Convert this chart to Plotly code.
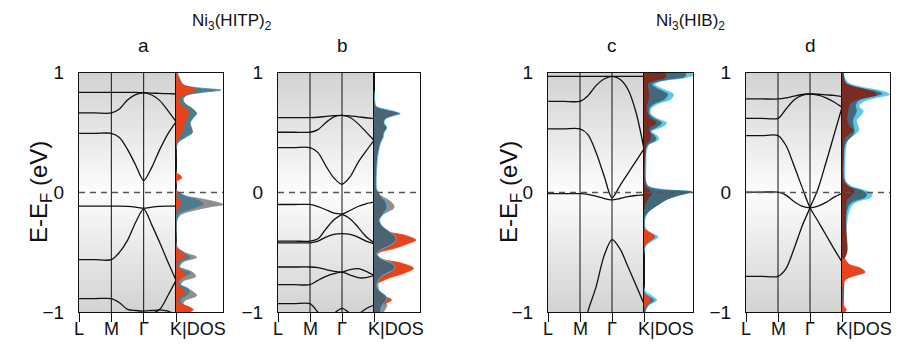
import numpy as np
import plotly.graph_objects as go

# ---------------- data ----------------
K_PATH = [0, 0.5, 1, 1.25, 1.5, 1.75, 2, 2.25, 2.5, 2.75, 3]
K_LABELS = ["L", "M", "Γ", "K"]
PANEL_LETTERS = ["a", "b", "c", "d"]
TITLES = ["Ni<sub>3</sub>(HITP)<sub>2</sub>", "Ni<sub>3</sub>(HIB)<sub>2</sub>"]

BANDS_A = [
    [0.836, 0.836, 0.836, 0.836, 0.836, 0.835, 0.833, 0.83, 0.827, 0.825, 0.822],
    [0.664, 0.664, 0.664, 0.697, 0.772, 0.817, 0.831, 0.814, 0.767, 0.683, 0.592],
    [0.494, 0.494, 0.494, 0.46, 0.36, 0.23, 0.10, 0.21, 0.36, 0.49, 0.59],
    [-0.114, -0.114, -0.114, -0.114, -0.116, -0.122, -0.131, -0.122, -0.116, -0.114, -0.114],
    [-0.561, -0.561, -0.561, -0.50, -0.40, -0.25, -0.136, -0.27, -0.42, -0.58, -0.733],
    [-0.886, -0.886, -0.886, -0.92, -0.975, -0.985, -0.99, -0.985, -0.98, -0.99, -1.02],
    [-1.1, -1.1, -1.1, -1.1, -1.1, -1.05, -1.02, -1.01, -0.975, -0.86, -0.733],
]
BANDS_B = [
    [0.625, 0.625, 0.625, 0.628, 0.635, 0.641, 0.644, 0.64, 0.632, 0.624, 0.617],
    [0.503, 0.503, 0.503, 0.525, 0.585, 0.632, 0.644, 0.626, 0.575, 0.506, 0.436],
    [0.375, 0.375, 0.375, 0.333, 0.22, 0.12, 0.069, 0.13, 0.25, 0.345, 0.436],
    [-0.100, -0.100, -0.100, -0.117, -0.144, -0.172, -0.183, -0.219, -0.289, -0.367, -0.419],
    [-0.406, -0.406, -0.406, -0.386, -0.303, -0.228, -0.183, -0.150, -0.117, -0.094, -0.081],
    [-0.42, -0.42, -0.42, -0.406, -0.372, -0.35, -0.344, -0.35, -0.372, -0.406, -0.428],
    [-0.622, -0.622, -0.622, -0.628, -0.643, -0.658, -0.664, -0.644, -0.636, -0.658, -0.692],
    [-0.769, -0.769, -0.769, -0.733, -0.700, -0.678, -0.664, -0.689, -0.711, -0.711, -0.692],
    [-0.928, -0.928, -0.928, -1.0, -1.06, -1.08, -1.08, -1.06, -1.02, -0.97, -0.94],
    [-1.1, -1.1, -1.1, -1.1, -1.08, -1.01, -0.967, -1.01, -1.08, -1.1, -1.1],
]
BANDS_C = [
    [0.969, 0.969, 0.969, 0.969, 0.969, 0.969, 0.969, 0.969, 0.969, 0.969, 0.969],
    [0.761, 0.761, 0.761, 0.808, 0.892, 0.947, 0.969, 0.945, 0.86, 0.67, 0.364],
    [0.531, 0.531, 0.531, 0.483, 0.336, 0.142, -0.045, 0.058, 0.16, 0.262, 0.364],
    [-0.01, -0.01, -0.01, -0.015, -0.03, -0.05, -0.062, -0.05, -0.035, -0.025, -0.02],
    [-1.3, -1.3, -1.3, -0.99, -0.79, -0.53, -0.394, -0.47, -0.62, -0.775, -0.93],
]
BANDS_D = [
    [0.781, 0.781, 0.781, 0.79, 0.805, 0.818, 0.822, 0.82, 0.815, 0.81, 0.80],
    [0.619, 0.619, 0.619, 0.697, 0.772, 0.811, 0.822, 0.812, 0.79, 0.755, 0.711],
    [0.475, 0.475, 0.475, 0.392, 0.225, 0.045, -0.128, -0.24, -0.355, -0.47, -0.58],
    [0.003, 0.003, 0.003, -0.022, -0.075, -0.114, -0.128, -0.114, -0.083, -0.039, -0.006],
    [-0.70, -0.70, -0.70, -0.636, -0.47, -0.283, -0.128, 0.03, 0.25, 0.48, 0.711],
]

# DOS (energy, fraction of DOS box width)
A_GRAY_E = [0.02, 0.0, -0.03, -0.05, -0.08, -0.1, -0.12, -0.15, -0.18, -0.22, -0.3, -0.45, -0.5, -0.54, -0.58, -0.62, -0.66, -0.7, -0.74, -0.78, -0.82, -0.86, -0.9, -0.93, -0.97, -1.0]
A_GRAY_V = [0.0, 0.02, 0.2, 0.5, 0.86, 1.0, 0.72, 0.37, 0.12, 0.03, 0.01, 0.02, 0.18, 0.44, 0.15, 0.08, 0.33, 0.42, 0.15, 0.1, 0.33, 0.44, 0.2, 0.15, 0.3, 0.22]
A_TEAL_E = [1.0, 0.95, 0.9, 0.875, 0.855, 0.835, 0.81, 0.78, 0.74, 0.7, 0.66, 0.62, 0.58, 0.54, 0.5, 0.46, 0.42, 0.38, 0.16, 0.13, 0.1, 0.02, -0.03, -0.07, -0.095, -0.12, -0.15, -0.18, -0.25, -0.46, -0.5, -0.54, -0.58, -0.63, -0.67, -0.71, -0.76, -0.81, -0.85, -0.89, -0.93, -0.97, -1.0]
A_TEAL_V = [0.02, 0.08, 0.15, 0.45, 0.95, 0.55, 0.22, 0.15, 0.2, 0.35, 0.44, 0.36, 0.3, 0.33, 0.35, 0.2, 0.05, 0.01, 0.01, 0.07, 0.01, 0.01, 0.2, 0.51, 0.58, 0.44, 0.2, 0.05, 0.01, 0.02, 0.15, 0.3, 0.1, 0.06, 0.3, 0.12, 0.06, 0.28, 0.25, 0.1, 0.12, 0.28, 0.2]
A_RED_E = [1.0, 0.95, 0.9, 0.86, 0.83, 0.8, 0.76, 0.72, 0.68, 0.64, 0.6, 0.56, 0.52, 0.48, 0.44, 0.4, 0.17, 0.14, 0.12, 0.09, 0.0, -0.06, -0.09, -0.12, -0.16, -0.45, -0.5, -0.53, -0.57, -0.62, -0.66, -0.69, -0.73, -0.77, -0.81, -0.84, -0.88, -0.92, -0.95, -0.98, -1.0]
A_RED_V = [0.02, 0.06, 0.15, 0.43, 0.3, 0.1, 0.06, 0.15, 0.26, 0.25, 0.2, 0.17, 0.15, 0.1, 0.03, 0.0, 0.0, 0.1, 0.12, 0.01, 0.0, 0.05, 0.13, 0.06, 0.0, 0.0, 0.12, 0.2, 0.05, 0.02, 0.15, 0.2, 0.05, 0.03, 0.15, 0.18, 0.05, 0.05, 0.25, 0.37, 0.25]

B_GRAY_E = [0.02, -0.02, -0.06, -0.1, -0.13, -0.16, -0.2, -0.25, -0.5, -0.85, -0.9, -0.94, -0.97, -1.0]
B_GRAY_V = [0.02, 0.12, 0.3, 0.42, 0.43, 0.3, 0.12, 0.05, 0.05, 0.12, 0.2, 0.28, 0.25, 0.2]
B_RED_E = [-0.28, -0.3, -0.33, -0.36, -0.397, -0.43, -0.465, -0.5, -0.53, -0.56, -0.59, -0.633, -0.675, -0.717, -0.76, -0.8, -0.83, -0.86, -0.897, -0.935, -0.97, -1.0]
B_RED_V = [0.0, 0.02, 0.3, 0.7, 0.91, 0.72, 0.45, 0.12, 0.05, 0.2, 0.6, 0.86, 0.65, 0.3, 0.08, 0.03, 0.08, 0.2, 0.38, 0.2, 0.05, 0.02]
B_TEAL_E = [0.85, 0.76, 0.72, 0.70, 0.68, 0.658, 0.635, 0.61, 0.58, 0.54, 0.5, 0.46, 0.42, 0.38, 0.3, 0.2, 0.1, 0.03, -0.03, -0.08, -0.13, -0.18, -0.23, -0.28, -0.33, -0.37, -0.4, -0.44, -0.48, -0.51, -0.55, -0.59, -0.62, -0.65, -0.69, -0.73, -0.78, -0.82, -0.86, -0.89, -0.93, -0.97, -1.0]
B_TEAL_V = [0.0, 0.02, 0.05, 0.2, 0.42, 0.57, 0.38, 0.24, 0.22, 0.28, 0.22, 0.2, 0.15, 0.12, 0.08, 0.06, 0.05, 0.06, 0.15, 0.26, 0.28, 0.2, 0.12, 0.18, 0.35, 0.47, 0.48, 0.35, 0.15, 0.06, 0.15, 0.38, 0.46, 0.4, 0.2, 0.1, 0.06, 0.12, 0.25, 0.28, 0.2, 0.15, 0.15]

C_LB_E = [1.0, 0.98, 0.955, 0.93, 0.9, 0.86, 0.82, 0.78, 0.74, 0.7, 0.66, 0.62, 0.58, 0.55, 0.51, 0.47, 0.44, 0.4, 0.35, 0.2, 0.08, 0.05, 0.025, 0.005, -0.02, -0.05, -0.09, -0.14, -0.2, -0.3, -0.34, -0.37, -0.41, -0.45, -0.82, -0.86, -0.9, -0.94, -0.98, -1.0]
C_LB_V = [0.95, 1.0, 0.8, 0.35, 0.22, 0.4, 0.6, 0.55, 0.28, 0.14, 0.13, 0.25, 0.46, 0.38, 0.15, 0.28, 0.29, 0.1, 0.05, 0.04, 0.04, 0.1, 0.4, 0.98, 0.76, 0.5, 0.33, 0.14, 0.03, 0.03, 0.15, 0.29, 0.15, 0.03, 0.02, 0.15, 0.26, 0.1, 0.03, 0.03]
C_TEAL_E = [1.0, 0.97, 0.945, 0.92, 0.9, 0.86, 0.82, 0.78, 0.74, 0.7, 0.66, 0.62, 0.58, 0.55, 0.51, 0.47, 0.44, 0.4, 0.35, 0.1, 0.05, 0.025, 0.005, -0.02, -0.06, -0.1, -0.15, -0.2, -0.3, -0.34, -0.37, -0.41, -0.45, -0.84, -0.87, -0.9, -0.94, -1.0]
C_TEAL_V = [0.84, 0.84, 0.5, 0.22, 0.16, 0.3, 0.48, 0.42, 0.2, 0.1, 0.1, 0.2, 0.36, 0.28, 0.12, 0.22, 0.24, 0.08, 0.03, 0.03, 0.08, 0.3, 0.97, 0.72, 0.45, 0.3, 0.12, 0.02, 0.01, 0.1, 0.22, 0.1, 0.01, 0.01, 0.1, 0.2, 0.08, 0.01]
C_BROWN_E = [1.0, 0.96, 0.935, 0.91, 0.86, 0.8, 0.74, 0.68, 0.62, 0.58, 0.54, 0.48, 0.44, 0.4, 0.3, 0.05, 0.02, -0.01, -0.04, -0.08, -0.15]
C_BROWN_V = [0.43, 0.43, 0.2, 0.08, 0.08, 0.1, 0.06, 0.05, 0.12, 0.25, 0.1, 0.13, 0.12, 0.04, 0.02, 0.02, 0.1, 0.15, 0.1, 0.04, 0.0]
C_RED_E = [-0.3, -0.33, -0.36, -0.38, -0.41, -0.45, -0.84, -0.87, -0.9, -0.93, -0.96]
C_RED_V = [0.0, 0.1, 0.21, 0.2, 0.08, 0.0, 0.0, 0.08, 0.14, 0.08, 0.0]

D_LB_E = [1.0, 0.95, 0.91, 0.88, 0.85, 0.82, 0.79, 0.76, 0.72, 0.68, 0.64, 0.6, 0.56, 0.52, 0.48, 0.44, 0.38, 0.2, 0.1, 0.05, 0.02, -0.01, -0.04, -0.07, -0.1, -0.15, -0.25, -0.35, -0.5, -0.6, -0.7, -0.85, -1.0]
D_LB_V = [0.03, 0.06, 0.15, 0.4, 0.8, 0.99, 0.7, 0.45, 0.35, 0.44, 0.38, 0.3, 0.33, 0.35, 0.25, 0.12, 0.08, 0.06, 0.07, 0.2, 0.45, 0.62, 0.6, 0.35, 0.22, 0.15, 0.1, 0.08, 0.06, 0.05, 0.04, 0.03, 0.03]
D_TEAL_E = [1.0, 0.9, 0.87, 0.845, 0.825, 0.8, 0.77, 0.73, 0.68, 0.6, 0.5, 0.4, 0.1, 0.05, 0.02, -0.01, -0.04, -0.07, -0.1, -0.15, -0.25, -0.4, -0.6, -1.0]
D_TEAL_V = [0.02, 0.1, 0.3, 0.7, 0.83, 0.6, 0.35, 0.28, 0.3, 0.22, 0.25, 0.06, 0.05, 0.15, 0.38, 0.51, 0.48, 0.25, 0.15, 0.1, 0.07, 0.06, 0.05, 0.02]
D_BROWN_E = [1.0, 0.92, 0.89, 0.86, 0.835, 0.815, 0.79, 0.76, 0.73, 0.68, 0.6, 0.55, 0.52, 0.49, 0.45, 0.3, 0.1, 0.05, 0.02, -0.02, -0.06, -0.1, -0.3, -0.5, -0.58]
D_BROWN_V = [0.02, 0.05, 0.2, 0.5, 0.68, 0.72, 0.45, 0.22, 0.15, 0.12, 0.1, 0.15, 0.23, 0.15, 0.05, 0.03, 0.03, 0.12, 0.25, 0.2, 0.1, 0.08, 0.08, 0.1, 0.0]
D_RED_E = [-0.55, -0.6, -0.63, -0.665, -0.69, -0.72, -0.76, -0.9, -0.95, -0.98, -1.0]
D_RED_V = [0.05, 0.15, 0.38, 0.48, 0.3, 0.1, 0.02, 0.0, 0.04, 0.09, 0.05]

# ---------------- styling ----------------
RED = "#e8431d"
GRAY = "#8e8e8e"
TEAL_A = "#4f7c8d"
TEAL_B = "#4b6373"
LBLUE = "#5cc6ee"
BROWN = "#7a2b22"
TEAL_CD = "#41697a"
FONT = "Liberation Sans, Arial, sans-serif"

W, H = 908, 353
def fx(p): return p / W
def fy(p): return 1 - p / H

PANEL_PX = [(79, 176, 223), (278, 374, 420), (548, 644, 693), (746, 842, 890)]
Y_TOP, Y_BOT = 72.7, 312.3

DOS_SERIES = [
    [(A_GRAY_E, A_GRAY_V, GRAY, GRAY), (A_TEAL_E, A_TEAL_V, TEAL_A, TEAL_A), (A_RED_E, A_RED_V, RED, RED)],
    [(B_GRAY_E, B_GRAY_V, GRAY, GRAY), (B_RED_E, B_RED_V, RED, RED), (B_TEAL_E, B_TEAL_V, TEAL_B, LBLUE)],
    [(C_LB_E, C_LB_V, LBLUE, LBLUE), (C_TEAL_E, C_TEAL_V, TEAL_CD, TEAL_CD), (C_BROWN_E, C_BROWN_V, BROWN, BROWN), (C_RED_E, C_RED_V, RED, RED)],
    [(D_LB_E, D_LB_V, LBLUE, LBLUE), (D_TEAL_E, D_TEAL_V, TEAL_CD, TEAL_CD), (D_BROWN_E, D_BROWN_V, BROWN, BROWN), (D_RED_E, D_RED_V, RED, RED)],
]
BANDS = [BANDS_A, BANDS_B, BANDS_C, BANDS_D]

fig = go.Figure()
layout = dict(
    template="none",
    width=W, height=H, margin=dict(l=0, r=0, t=0, b=0, pad=0, autoexpand=False),
    paper_bgcolor="white", plot_bgcolor="white", showlegend=False,
    font=dict(family=FONT, size=18, color="#111"),
)
shapes, annotations = [], []

grad_y = np.linspace(-1, 1, 81)
grad_z = [[abs(v), abs(v)] for v in grad_y]

for i, (xl, xk, xr) in enumerate(PANEL_PX):
    nb, nd = 2 * i + 1, 2 * i + 2
    xb = "x" if nb == 1 else f"x{nb}"
    yb = "y" if nb == 1 else f"y{nb}"
    xd, yd = f"x{nd}", f"y{nd}"

    fig.add_trace(go.Heatmap(x=[0, 3], y=grad_y, z=grad_z, xaxis=xb, yaxis=yb,
                             colorscale=[[0, "#fdfdfd"], [1, "#d2d2d2"]], zmin=0, zmax=1,
                             zsmooth="best", showscale=False, hoverinfo="skip"))
    for band in BANDS[i]:
        fig.add_trace(go.Scatter(x=K_PATH, y=band, xaxis=xb, yaxis=yb, mode="lines",
                                 line=dict(color="#111", width=1.3, shape="spline", smoothing=0.8),
                                 hoverinfo="skip"))
    for (e, v, fc, lc) in DOS_SERIES[i]:
        fig.add_trace(go.Scatter(x=v, y=e, xaxis=xd, yaxis=yd, mode="lines", fill="tozerox",
                                 fillcolor=fc, line=dict(color=lc, width=0.8, shape="spline", smoothing=0.9),
                                 hoverinfo="skip"))

    dom_y = [fy(Y_BOT), fy(Y_TOP)]
    common = dict(showline=True, mirror=True, linecolor="#111", linewidth=1,
                  showgrid=False, zeroline=False, automargin=False, fixedrange=True)
    layout[f"xaxis{nb}"] = dict(domain=[fx(xl), fx(xk)], range=[0, 3], anchor=yb,
                                tickvals=[0, 1, 2, 3], ticks="outside", ticklen=9, tickwidth=1,
                                tickcolor="#111", showticklabels=False, **common)
    layout[f"yaxis{nb}"] = dict(domain=dom_y, range=[-1, 1], anchor=xb,
                                tickvals=[-1, 0, 1], ticktext=["\u22121", "0", "1"], ticks="",
                                tickfont=dict(size=19, color="#111"), ticklabelstandoff=10, **common)
    layout[f"xaxis{nd}"] = dict(domain=[fx(xk), fx(xr)], range=[0, 1.0], anchor=yd,
                                showticklabels=False, ticks="", **common)
    layout[f"yaxis{nd}"] = dict(domain=dom_y, range=[-1, 1], anchor=xd,
                                showticklabels=False, ticks="", **common)

    for kx in (1, 2):
        shapes.append(dict(type="line", xref=xb, yref=f"{yb} domain", x0=kx, x1=kx, y0=0, y1=1,
                           line=dict(color="#111", width=1), layer="above"))
    shapes.append(dict(type="line", xref="paper", yref=yb, x0=fx(xl), x1=fx(xr), y0=0, y1=0,
                       line=dict(color="#555", width=1.3, dash="6px,5px"), layer="above"))

    kpx = [xl, xl + (xk - xl) / 3, xl + 2 * (xk - xl) / 3, xk]
    for lab, px in zip(K_LABELS, kpx):
        annotations.append(dict(text=lab, x=fx(px), y=fy(329), xref="paper", yref="paper",
                                xanchor="center", yanchor="middle", showarrow=False,
                                font=dict(size=18)))
    annotations.append(dict(text="|DOS", x=fx(xk + 4), y=fy(329), xref="paper", yref="paper",
                            xanchor="left", yanchor="middle", showarrow=False, font=dict(size=18)))
    annotations.append(dict(text=PANEL_LETTERS[i], x=fx(kpx[2]), y=fy(45), xref="paper", yref="paper",
                            xanchor="center", yanchor="middle", showarrow=False,
                            font=dict(size=19)))

for j, (tx, lx) in enumerate([(232, 40), (690, 510)]):
    annotations.append(dict(text=TITLES[j], x=fx(tx), y=fy(22), xref="paper", yref="paper",
                            xanchor="center", yanchor="middle", showarrow=False,
                            font=dict(size=17)))
    annotations.append(dict(text="E-E<sub>F</sub> (eV)", x=fx(lx), y=fy(192), xref="paper", yref="paper",
                            xanchor="center", yanchor="middle", showarrow=False, textangle=-90,
                            font=dict(size=24)))

layout["shapes"] = shapes
layout["annotations"] = annotations
fig.update_layout(**layout)
fig.write_html("out.html", config={"displayModeBar": False, "staticPlot": True},
               post_script="document.body.style.margin='0';document.body.style.overflow='hidden';")
